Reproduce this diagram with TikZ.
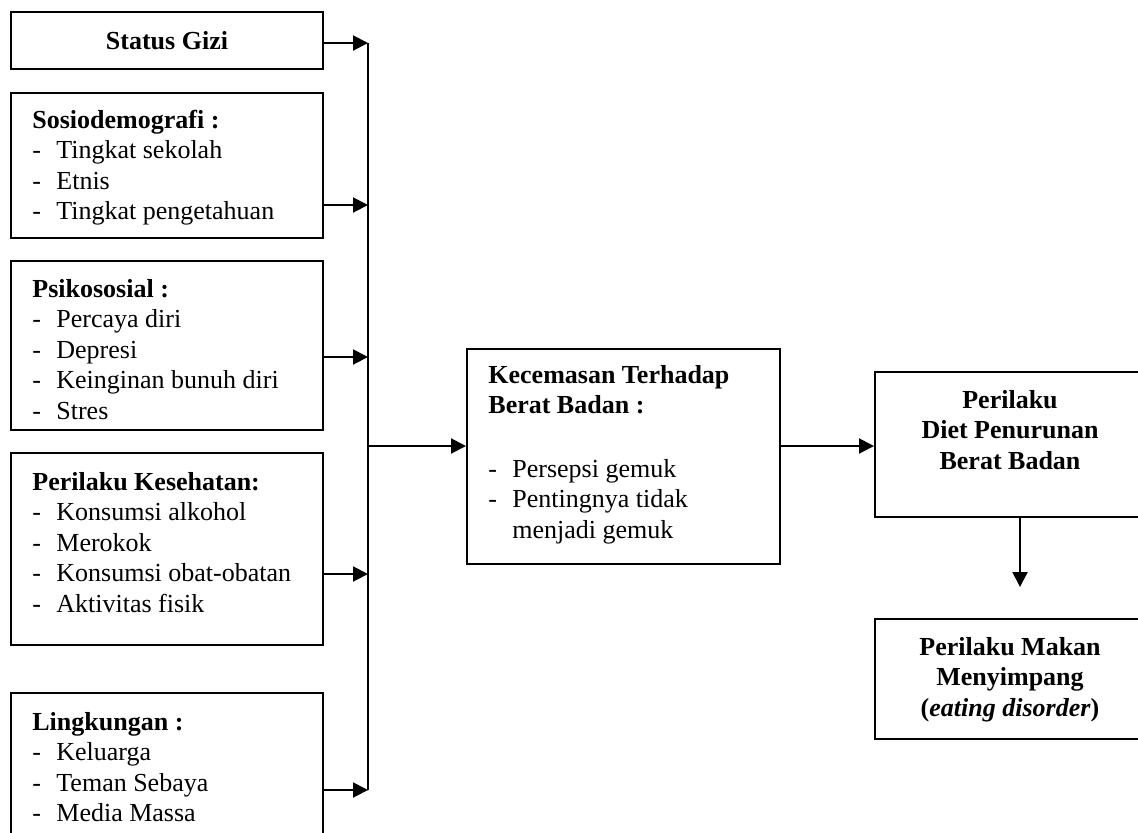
\documentclass[tikz,border=0pt]{standalone}
\usepackage{fontspec}
\setmainfont{Liberation Serif}
\usetikzlibrary{arrows.meta,fit}
\newcommand{\itm}[1]{\makebox[12pt][l]{-}#1}
\begin{document}
\begin{tikzpicture}[x=0.5pt,y=-0.5pt,
  box/.style={draw, line width=1pt, inner sep=0pt},
  txt/.style={anchor=base west, align=left, inner sep=0pt, font=\fontsize{13}{15.3}\selectfont},
  ctxt/.style={anchor=base, align=center, inner sep=0pt, font=\fontsize{13}{15.3}\selectfont\bfseries},
  arr/.style={line width=1pt, -{Triangle[length=7.5pt,width=7.5pt]}},
  ln/.style={line width=1pt}]
\clip (0,0) rectangle (1138,832);
% boxes
\node[box, fit={(11,12) (323,69)}] (sg) {};
\node[box, fit={(11,93) (323,238)}] (sd) {};
\node[box, fit={(11,261) (323,430)}] (ps) {};
\node[box, fit={(11,453) (323,645)}] (pk) {};
\node[box, fit={(11,693) (323,850)}] (lk) {};
\node[box, fit={(467,349) (780,564)}] (kc) {};
\node[box, fit={(875,372) (1145,517)}] (pd) {};
\node[box, fit={(875,619) (1145,739)}] (pm) {};
% texts (base anchor = baseline of the last line)
\node[ctxt] (sgt) at (167,49) {Status Gizi};
\node[txt] (sdt) at (32,219.8) {\textbf{Sosiodemografi :}\\ \itm{Tingkat sekolah}\\ \itm{Etnis}\\ \itm{Tingkat pengetahuan}};
\node[txt] (pst) at (32,419.4) {\textbf{Psikososial :}\\ \itm{Percaya diri}\\ \itm{Depresi}\\ \itm{Keinginan bunuh diri}\\ \itm{Stres}};
\node[txt] (pkt) at (32,612.4) {\textbf{Perilaku Kesehatan:}\\ \itm{Konsumsi alkohol}\\ \itm{Merokok}\\ \itm{Konsumsi obat-obatan}\\ \itm{Aktivitas fisik}};
\node[txt] (lkt) at (32,821.8) {\textbf{Lingkungan :}\\ \itm{Keluarga}\\ \itm{Teman Sebaya}\\ \itm{Media Massa}};
\node[txt] (kch) at (488,413.6) {\textbf{Kecemasan Terhadap}\\ \textbf{Berat Badan :}};
\node[txt] (kcl) at (488,538.2) {\itm{Persepsi gemuk}\\ \itm{Pentingnya tidak}\\ \hspace*{12pt}menjadi gemuk};
\node[ctxt] (pdt) at (1010,469.2) {Perilaku\\ Diet Penurunan\\ Berat Badan};
\node[ctxt] (pmt) at (1010,716.2) {Perilaku Makan\\ Menyimpang\\ (\textit{eating disorder})};
% bus
\coordinate (b1) at (368,43);
\coordinate (b2) at (368,205);
\coordinate (b3) at (368,357);
\coordinate (b4) at (368,574);
\coordinate (b5) at (368,790);
\coordinate (bk) at (368,446);
\draw[ln] (b1) -- (b5);
\draw[arr] (sg.east |- b1) -- (b1);
\draw[arr] (sd.east |- b2) -- (b2);
\draw[arr] (ps.east |- b3) -- (b3);
\draw[arr] (pk.east |- b4) -- (b4);
\draw[arr] (lk.east |- b5) -- (b5);
\draw[arr] (bk) -- (kc.west |- bk);
\draw[arr] (kc.east |- bk) -- (pd.west |- bk);
\coordinate (dn) at (1020,587);
\draw[arr] (pd.south -| dn) -- (dn);
\end{tikzpicture}
\end{document}
